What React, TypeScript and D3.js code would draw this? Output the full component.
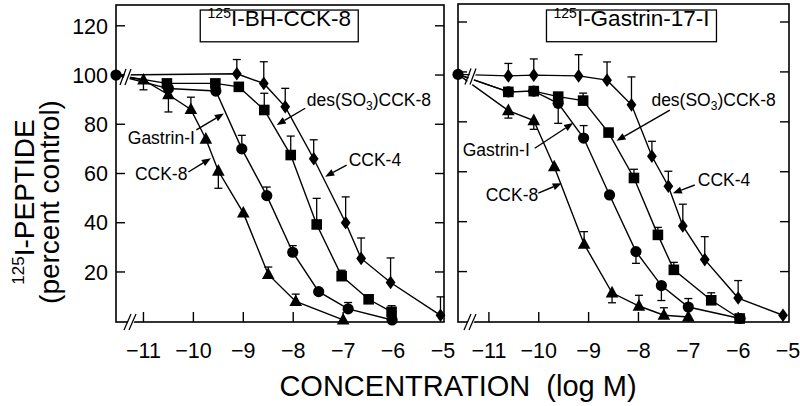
import React from "react";
import * as d3 from "d3";

// ---------- shared ticks ----------
const xTickValues = [-11, -10, -9, -8, -7, -6, -5];
const xTickMarks = [-11, -10, -9, -8, -7, -6];
const yTickValues = [20, 40, 60, 80, 100, 120];

// ---------- Panel A: 125I-BH-CCK-8 ----------
const aControl = 100;
const aCck8X = [-11.0, -10.5, -10.05, -9.75, -9.5, -9.0, -8.5, -7.95, -7.0];
const aCck8Y = [98, 92, 86, 74, 61, 44, 19, 8, 0.5];
const aCck8E = [-4, -7, 5, 0, -7, 0, 3, 3, 0];

const aGasX = [-10.5, -9.55, -9.03, -8.53, -8.01, -7.49, -6.9, -6.02];
const aGasY = [94.5, 93.5, 70, 51, 28, 12, 5, 0.5];
const aGasE = [0, 0, 5.5, 3.5, 2.7, 0, 2.6, 0];

const aDesX = [-10.53, -9.56, -9.09, -8.58, -8.05, -7.53, -7.03, -6.49, -6.03];
const aDesY = [96.6, 96.6, 95.2, 85.8, 67.5, 39.3, 18.3, 8.9, 3.8];
const aDesE = [0, 0, 0, 6.8, 7.7, 10.6, 2.4, 0, 2.5];

const aCck4X = [-9.13, -8.59, -8.16, -7.59, -6.95, -6.64, -6.05, -5.05];
const aCck4Y = [100.5, 96.6, 87.1, 66, 40, 25.5, 15.7, 2.4];
const aCck4E = [5.8, 8.8, 7.5, 7.7, 10.5, 8.3, 10, 7.5];

// ---------- Panel B: 125I-Gastrin-17-I ----------
const bControl = 99;
const bCck8X = [-10.61, -10.1, -9.69, -9.09, -8.53, -7.99, -7.49, -7.0];
const bCck8Y = [84.5, 80.5, 62, 31, 11.5, 6.2, 2.5, 1.8];
const bCck8E = [-3, -3.5, 0, 5, -4, 4.3, 3, 0];

const bGasX = [-10.61, -10.1, -9.61, -9.1, -8.58, -8.05, -7.54, -7.0, -5.96];
const bGasY = [92, 92.3, 87.4, 73.5, 50.7, 28, 14.4, 5.8, 1.2];
const bGasE = [0, 0, -8, 5, 0, -4.7, -6, 3.4, 0];

const bDesX = [-10.61, -10.1, -9.61, -9.11, -8.6, -8.09, -7.61, -7.29, -6.54, -5.97];
const bDesY = [92, 92.3, 90.1, 88.5, 75.7, 57.5, 34.7, 20.7, 8.5, 1.2];
const bDesE = [0, 0, 0, 3, 0, 3.5, 3, 3, 3, 0];

const bCck4X = [-10.61, -10.1, -9.2, -8.63, -8.14, -7.73, -7.4, -7.11, -6.67, -6.0, -5.1];
const bCck4Y = [98.4, 98.7, 98.4, 96.7, 86.8, 66.2, 54.2, 38.3, 24.8, 9.4, 2.5];
const bCck4E = [5, 6.5, 8.5, 7.3, 11.2, 6, 6, 8.7, 9.2, 7, 0];

const FONT = "'Liberation Sans', Arial, Helvetica, sans-serif";

type Series = { x: number[]; y: number[]; e: number[]; marker: string };
type Ann = { text: string; tx: number; ty: number; anchor: "start" | "end"; ax1: number; ay1: number; ax2: number; ay2: number; sub?: boolean };

function markerPath(kind: string): string {
  if (kind === "circle") return "M5.6,0A5.6,5.6 0 1,1 -5.6,0A5.6,5.6 0 1,1 5.6,0Z";
  if (kind === "square") return "M-5.3,-5.3H5.3V5.3H-5.3Z";
  if (kind === "triangle") return "M0,-7L6.3,4.6H-6.3Z";
  return "M0,-6.8L4.9,0L0,6.8L-4.9,0Z";
}

function Panel(props: {
  left: number; right: number; top: number; bottom: number;
  xDomain: [number, number]; xRange: [number, number];
  yRange: [number, number]; control: number; series: Series[];
  title: string; titleX: number; titleTop: number; titleBottom: number; titleW: number;
  anns: Ann[]; showYLabels: boolean; breakOffset: number; axisBreakX: number;
}) {
  const { left, right, top, bottom, series, anns } = props;
  const x = d3.scaleLinear().domain(props.xDomain).range(props.xRange);
  const y = d3.scaleLinear().domain([0, 120]).range(props.yRange);
  const line = d3.line<[number, number]>().x((d) => x(d[0])).y((d) => y(d[1]));
  const ctlX = props.xDomain[0];
  const bx = left + props.breakOffset;
  const by = y(props.control) + 3;
  const ab = props.axisBreakX;

  return (
    <g>
      <rect x={left} y={top} width={right - left} height={bottom - top} fill="none" stroke="#000" strokeWidth={1.6} />
      {yTickValues.map((v) => (
        <g key={"yt" + v}>
          <line x1={left} x2={left + 9} y1={y(v)} y2={y(v)} stroke="#000" strokeWidth={1.4} />
          <line x1={right} x2={right - 9} y1={y(v)} y2={y(v)} stroke="#000" strokeWidth={1.4} />
          {props.showYLabels && (
            <text x={left - 8} y={y(v)} dy="0.36em" textAnchor="end" fontSize={21.5} fontFamily={FONT}>{v}</text>
          )}
        </g>
      ))}
      {xTickMarks.map((v) => (
        <line key={"xt" + v} x1={x(v)} x2={x(v)} y1={bottom} y2={bottom - 10} stroke="#000" strokeWidth={1.4} />
      ))}
      {xTickValues.map((v) => (
        <text key={"xl" + v} x={x(v)} y={358} textAnchor="middle" fontSize={21.5} fontFamily={FONT}>
          {"\u2212" + Math.abs(v)}
        </text>
      ))}
      <polygon points={`${ab - 5},${bottom + 7} ${ab + 1},${bottom + 7} ${ab + 7},${bottom - 7} ${ab + 1},${bottom - 7}`} fill="#fff" />
      <line x1={ab - 6} y1={bottom + 8} x2={ab + 1} y2={bottom - 8} stroke="#000" strokeWidth={1.3} />
      <line x1={ab - 1} y1={bottom + 8} x2={ab + 6} y2={bottom - 8} stroke="#000" strokeWidth={1.3} />

      {series.map((s, i) => {
        const pts: [number, number][] = [[ctlX, props.control], ...s.x.map((xx, j) => [xx, s.y[j]] as [number, number])];
        return <path key={"ln" + i} d={line(pts) || ""} fill="none" stroke="#000" strokeWidth={1.4} />;
      })}
      <polygon points={`${bx - 4},${by + 8} ${bx + 2},${by + 8} ${bx + 8},${by - 10} ${bx + 2},${by - 10}`} fill="#fff" />
      <line x1={bx - 5} y1={by + 7} x2={bx + 1} y2={by - 9} stroke="#000" strokeWidth={1.3} />
      <line x1={bx} y1={by + 7} x2={bx + 6} y2={by - 9} stroke="#000" strokeWidth={1.3} />

      {series.map((s, i) =>
        s.x.map((xx, j) =>
          s.e[j] !== 0 ? (
            <g key={"eb" + i + "-" + j}>
              <line x1={x(xx)} x2={x(xx)} y1={y(s.y[j])} y2={y(s.y[j] + s.e[j])} stroke="#000" strokeWidth={1.3} />
              <line x1={x(xx) - 4} x2={x(xx) + 4} y1={y(s.y[j] + s.e[j])} y2={y(s.y[j] + s.e[j])} stroke="#000" strokeWidth={1.3} />
            </g>
          ) : null
        )
      )}
      {series.map((s, i) =>
        s.x.map((xx, j) => (
          <path key={"mk" + i + "-" + j} d={markerPath(s.marker)} transform={`translate(${x(xx)},${y(s.y[j])})`} fill="#000" />
        ))
      )}
      <path d={markerPath("circle")} transform={`translate(${x(ctlX)},${y(props.control)})`} fill="#000" />

      <rect x={x(props.titleX) - props.titleW / 2} y={y(props.titleTop)} width={props.titleW} height={y(props.titleBottom) - y(props.titleTop)} fill="#fff" stroke="#000" strokeWidth={1.3} />
      <text x={x(props.titleX)} y={y((props.titleTop + props.titleBottom) / 2)} dy="0.38em" textAnchor="middle" fontSize={22.5} fontFamily={FONT}>
        <tspan fontSize={14} dy={-8}>125</tspan>
        <tspan dy={8}>{props.title}</tspan>
      </text>

      {anns.map((a, i) => {
        const x1 = x(a.ax1), y1 = y(a.ay1), x2 = x(a.ax2), y2 = y(a.ay2);
        const ang = Math.atan2(y2 - y1, x2 - x1);
        const L = 9, W = 3.6;
        const hx = x2 - L * Math.cos(ang), hy = y2 - L * Math.sin(ang);
        const p1 = `${x2},${y2}`;
        const p2 = `${hx + W * Math.sin(ang)},${hy - W * Math.cos(ang)}`;
        const p3 = `${hx - W * Math.sin(ang)},${hy + W * Math.cos(ang)}`;
        return (
          <g key={"an" + i}>
            <line x1={x1} y1={y1} x2={hx} y2={hy} stroke="#000" strokeWidth={1.4} />
            <polygon points={`${p1} ${p2} ${p3}`} fill="#000" />
            <text x={x(a.tx)} y={y(a.ty)} dy="0.36em" textAnchor={a.anchor} fontSize={17.5} fontFamily={FONT}>
              {a.sub ? (
                <>
                  <tspan>des(SO</tspan>
                  <tspan fontSize={12} dy={4}>3</tspan>
                  <tspan dy={-4}>)CCK-8</tspan>
                </>
              ) : (
                a.text
              )}
            </text>
          </g>
        );
      })}
    </g>
  );
}

export default function App() {
  const aSeries: Series[] = [
    { x: aGasX, y: aGasY, e: aGasE, marker: "circle" },
    { x: aCck8X, y: aCck8Y, e: aCck8E, marker: "triangle" },
    { x: aDesX, y: aDesY, e: aDesE, marker: "square" },
    { x: aCck4X, y: aCck4Y, e: aCck4E, marker: "diamond" },
  ];
  const bSeries: Series[] = [
    { x: bGasX, y: bGasY, e: bGasE, marker: "circle" },
    { x: bCck8X, y: bCck8Y, e: bCck8E, marker: "triangle" },
    { x: bDesX, y: bDesY, e: bDesE, marker: "square" },
    { x: bCck4X, y: bCck4Y, e: bCck4E, marker: "diamond" },
  ];
  const aAnns: Ann[] = [
    { text: "des(SO3)CCK-8", sub: true, tx: -7.73, ty: 89.8, anchor: "start", ax1: -7.76, ay1: 86.5, ax2: -8.33, ay2: 79.7 },
    { text: "CCK-4", tx: -6.89, ty: 65.5, anchor: "start", ax1: -6.93, ay1: 63.4, ax2: -7.36, ay2: 58.7 },
    { text: "Gastrin-I", tx: -9.97, ty: 74.5, anchor: "end", ax1: -9.94, ay1: 77.7, ax2: -9.39, ay2: 84.4 },
    { text: "CCK-8", tx: -10.12, ty: 60.1, anchor: "end", ax1: -10.1, ay1: 60.6, ax2: -9.65, ay2: 66.2 },
  ];
  const bAnns: Ann[] = [
    { text: "des(SO3)CCK-8", sub: true, tx: -7.74, ty: 88.7, anchor: "start", ax1: -7.37, ay1: 84.7, ax2: -8.44, ay2: 72.4 },
    { text: "Gastrin-I", tx: -10.18, ty: 68.7, anchor: "end", ax1: -10.08, ay1: 69.4, ax2: -9.31, ay2: 79.5 },
    { text: "CCK-4", tx: -6.81, ty: 56.8, anchor: "start", ax1: -6.87, ay1: 54.7, ax2: -7.31, ay2: 51.4 },
    { text: "CCK-8", tx: -10.01, ty: 50.7, anchor: "end", ax1: -10.01, ay1: 51.4, ax2: -9.54, ay2: 55.4 },
  ];

  return (
    <svg width={800} height={406} style={{ position: "absolute", left: 0, top: 0, background: "#fff" }}>
      <rect x={0} y={0} width={800} height={406} fill="#fff" />
      <Panel
        left={116} right={444} top={5} bottom={322}
        xDomain={[-11.55, -5]} xRange={[116, 443]} yRange={[321.2, 25.8]}
        control={aControl} series={aSeries}
        title="I-BH-CCK-8" titleX={-8.28} titleTop={126.4} titleBottom={113.5} titleW={158}
        anns={aAnns} showYLabels={true} breakOffset={9} axisBreakX={130}
      />
      <Panel
        left={458} right={789} top={4} bottom={322}
        xDomain={[-11.62, -5]} xRange={[458, 788]} yRange={[321.5, 22]}
        control={bControl} series={bSeries}
        title="I-Gastrin-17-I" titleX={-8.14} titleTop={124.8} titleBottom={112.1} titleW={170}
        anns={bAnns} showYLabels={false} breakOffset={12} axisBreakX={470}
      />
      <text x={458} y={396} textAnchor="middle" fontSize={29} fontFamily={FONT}>
        CONCENTRATION{"\u00a0\u00a0"}(log M)
      </text>
      <text transform="translate(34,202) rotate(-90)" textAnchor="middle" fontSize={28} fontFamily={FONT}>
        <tspan fontSize={17} dy={-10}>125</tspan>
        <tspan dy={10}>I-PEPTIDE</tspan>
      </text>
      <text transform="translate(59,202) rotate(-90)" textAnchor="middle" fontSize={28} fontFamily={FONT}>
        (percent control)
      </text>
    </svg>
  );
}
